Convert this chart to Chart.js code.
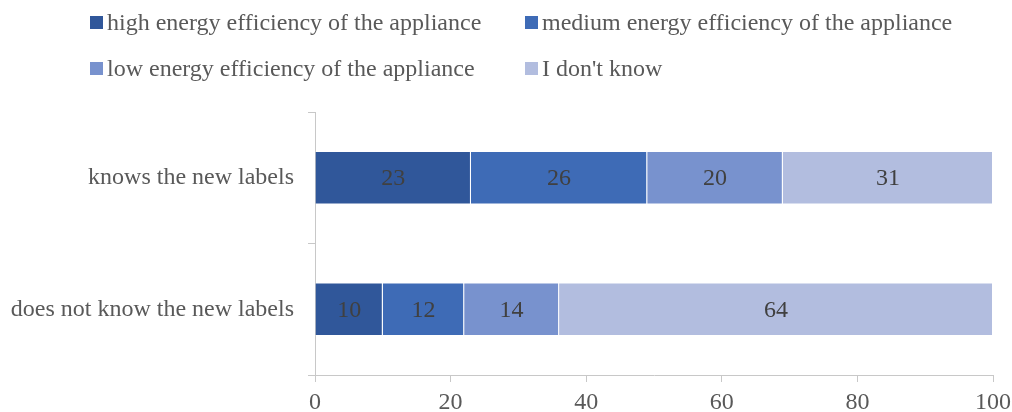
<!DOCTYPE html>
<html>
<head>
<meta charset="utf-8">
<script src="https://cdn.jsdelivr.net/npm/chart.js@4/dist/chart.umd.min.js"></script>
<style>
  html, body { margin: 0; padding: 0; background: #fff; }
  #wrap { position: relative; width: 1012px; height: 412px; }
  #chart { position: absolute; left: 0; top: 0; }
  #legend {
    position: absolute; left: 90px; top: -1px;
    display: grid; grid-template-columns: 435px auto; grid-auto-rows: 46px;
    font-family: "Liberation Serif", "Times New Roman", serif;
    font-size: 24px; color: #595959;
  }
  #legend .item { display: flex; align-items: center; white-space: nowrap; }
  #legend .box { width: 13px; height: 13px; margin-right: 4px; flex: none; }
</style>
</head>
<body>
<div id="wrap">
  <canvas id="chart" width="1012" height="412"></canvas>
  <div id="legend"></div>
</div>
<script>
// Survey answers, in percent
const categories = ['knows the new labels', 'does not know the new labels'];
const seriesNames = [
  'high energy efficiency of the appliance',
  'medium energy efficiency of the appliance',
  'low energy efficiency of the appliance',
  "I don't know"
];
const highEfficiency = [23, 10];
const mediumEfficiency = [26, 12];
const lowEfficiency = [20, 14];
const dontKnow = [31, 64];
const xTickValues = [0, 20, 40, 60, 80, 100];
const seriesColors = ['#30579A', '#3E6BB6', '#7892CE', '#B2BDDF'];

const FONT = '"Liberation Serif", "Times New Roman", serif';
Chart.defaults.font.family = FONT;
Chart.defaults.font.size = 24;

const seriesValues = [highEfficiency, mediumEfficiency, lowEfficiency, dontKnow];

// Value labels centred in each bar segment
const segmentLabels = {
  id: 'segmentLabels',
  afterDatasetsDraw(chart) {
    const ctx = chart.ctx;
    ctx.save();
    ctx.font = '24px ' + FONT;
    ctx.fillStyle = '#404040';
    ctx.textAlign = 'center';
    ctx.textBaseline = 'middle';
    chart.data.datasets.forEach((ds, i) => {
      chart.getDatasetMeta(i).data.forEach((el, j) => {
        ctx.fillText(String(ds.data[j]), (el.x + el.base) / 2, el.y + 1);
      });
    });
    ctx.restore();
  }
};

const axisColor = '#c8c8c8';

const chart = new Chart(document.getElementById('chart'), {
  type: 'bar',
  data: {
    labels: categories,
    datasets: seriesNames.map((name, i) => ({
      label: name,
      data: seriesValues[i],
      backgroundColor: seriesColors[i],
      borderColor: 'rgba(255,255,255,0.45)',
      borderWidth: 1,
      barPercentage: 0.405,
      categoryPercentage: 1
    }))
  },
  options: {
    indexAxis: 'y',
    responsive: false,
    animation: false,
    layout: { padding: { top: 112, right: 19, left: 0, bottom: 0 } },
    plugins: {
      legend: { display: false },
      tooltip: { enabled: false }
    },
    scales: {
      x: {
        type: 'linear',
        stacked: true,
        min: 0,
        max: 100,
        afterBuildTicks(scale) { scale.ticks = xTickValues.map(v => ({ value: v })); },
        afterFit(scale) {
          scale.height = 37;
          scale.paddingLeft = 0;
          scale.paddingRight = 0;
        },
        ticks: { color: '#595959', padding: 6, font: { size: 24 } },
        grid: { drawOnChartArea: false, drawTicks: true, tickLength: 7, color: axisColor },
        border: { color: axisColor }
      },
      y: {
        stacked: true,
        afterFit(scale) { scale.width = 315; },
        ticks: { color: '#595959', padding: 14, font: { size: 24 } },
        grid: { drawOnChartArea: false, drawTicks: true, tickLength: 7, offset: true, color: axisColor },
        border: { color: axisColor }
      }
    }
  },
  plugins: [segmentLabels]
});

// Legend laid out in two aligned columns
const legendEl = document.getElementById('legend');
chart.data.datasets.forEach(ds => {
  const item = document.createElement('div');
  item.className = 'item';
  const box = document.createElement('span');
  box.className = 'box';
  box.style.background = ds.backgroundColor;
  const txt = document.createElement('span');
  txt.textContent = ds.label;
  item.appendChild(box);
  item.appendChild(txt);
  legendEl.appendChild(item);
});
</script>
</body>
</html>
